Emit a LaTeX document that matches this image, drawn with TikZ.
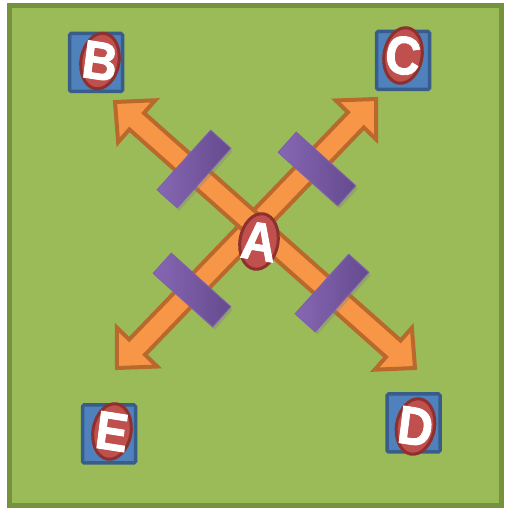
\documentclass[tikz,border=0pt]{standalone}
\usepackage{fontspec}
\setmainfont{Liberation Sans}[BoldFeatures={FakeBold=1.6}]
\usetikzlibrary{calc,shapes.geometric,shadows}
\definecolor{bggreen}{HTML}{9BBB59}
\definecolor{bgedge}{HTML}{76923C}
\definecolor{boxblue}{HTML}{4F81BD}
\definecolor{boxedge}{HTML}{385D8A}
\definecolor{ovred}{HTML}{C0504D}
\definecolor{ovedge}{HTML}{8E302D}
\definecolor{arrfill}{HTML}{F79646}
\definecolor{arredge}{HTML}{B9692C}
\definecolor{purlight}{HTML}{8667B4}
\definecolor{purdark}{HTML}{654A8D}
\definecolor{puredge}{HTML}{7E5FAD}
\newcommand\fatarrowpath[2]{%
  \draw[fatarrow] (#1)
    -- ($(#1)!29pt!(#2)!28pt!90:(#2)$)
    -- ($(#1)!29pt!(#2)!11pt!90:(#2)$)
    -- ($(#2)!29pt!(#1)!11pt!-90:(#1)$)
    -- ($(#2)!29pt!(#1)!28pt!-90:(#1)$)
    -- (#2)
    -- ($(#2)!29pt!(#1)!28pt!90:(#1)$)
    -- ($(#2)!29pt!(#1)!11pt!90:(#1)$)
    -- ($(#1)!29pt!(#2)!11pt!-90:(#2)$)
    -- ($(#1)!29pt!(#2)!28pt!-90:(#2)$)
    -- cycle;}
\begin{document}
\begin{tikzpicture}[x=1pt,y=1pt,
  frame/.style={draw=bgedge, line width=5pt, fill=bggreen},
  tile/.style={rectangle, draw=boxedge, fill=boxblue, line width=3.5pt, rounded corners=1.5pt, minimum width=53pt, minimum height=58pt, inner sep=0pt},
  oval/.style={ellipse, draw=ovedge, fill=ovred, line width=3pt, minimum width=38pt, minimum height=56pt, inner sep=0pt, rotate=-10},
  letter/.style={text=white, font=\bfseries\fontsize{54}{54}\selectfont, inner sep=0pt, xscale=0.9, rotate=-8},
  fatarrow/.style={draw=arredge, fill=arrfill, line width=4pt, line join=miter},
  bar/.style={rectangle, minimum width=80pt, minimum height=27pt, inner sep=0pt, draw=puredge, line width=1pt, left color=purlight, right color=purdark, drop shadow={opacity=0.35, shadow xshift=2pt, shadow yshift=-3pt}}
]
\useasboundingbox (0,0) rectangle (504,509);
\path[frame] (9.5,3) rectangle (501.5,503.5);

% tiles
\node[tile] (tB) at (96,446.5) {};
\node[tile] (tC) at (403,448.5) {};
\node[tile] (tD) at (413.5,86) {};
\node[tile] (tE) at (109,75) {};

% arrow end points
\coordinate (a1s) at (115,407);
\coordinate (a1e) at (415,141);
\coordinate (a2s) at (376,410);
\coordinate (a2e) at (117,141);
\fatarrowpath{a2s}{a2e}
\fatarrowpath{a1s}{a1e}

% bars
\node[bar, rotate=48] (barUL) at (194,340) {};
\node[bar, rotate=-42] (barUR) at (317,340) {};
\node[bar, rotate=-42] (barLL) at (192,219) {};
\node[bar, rotate=48] (barLR) at (332,216) {};

% ovals with letters
\node[oval] (oA) at (259,267.5) {};
\node[oval] (oB) at (100,448) {};
\node[oval] (oC) at (403,453.5) {};
\node[oval] (oD) at (415.5,82.5) {};
\node[oval] (oE) at (112,77.5) {};
\node[letter] (lA) at (oA) {A};
\node[letter] (lB) at (oB) {B};
\node[letter] (lC) at (oC) {C};
\node[letter] (lD) at (oD) {D};
\node[letter] (lE) at (oE) {E};
\end{tikzpicture}
\end{document}
